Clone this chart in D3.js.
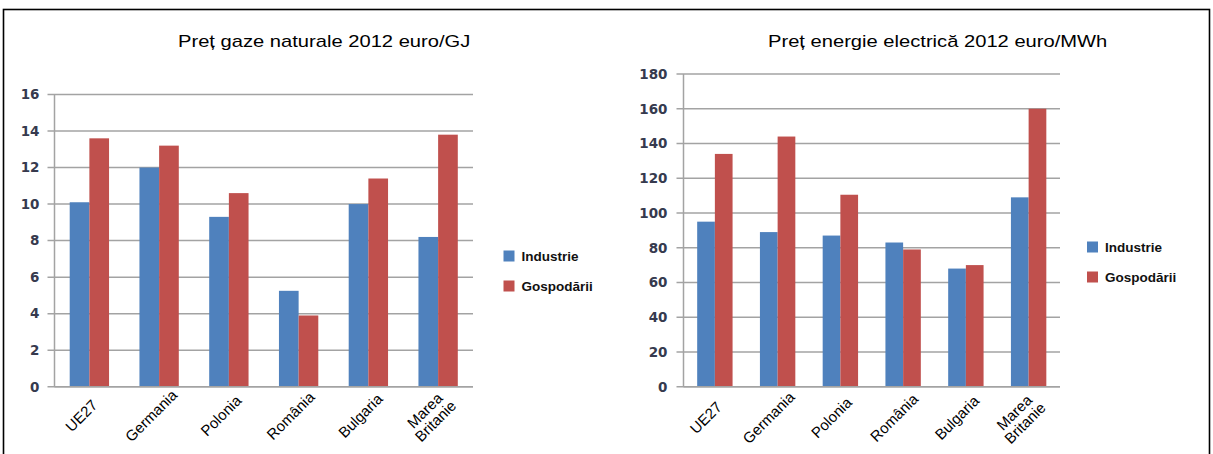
<!DOCTYPE html>
<html>
<head>
<meta charset="utf-8">
<script src="https://cdn.jsdelivr.net/npm/d3@7"></script>
<style>
  html, body { margin: 0; padding: 0; background: #fff; }
  svg { display: block; }
</style>
</head>
<body>
<svg id="chart" width="1213" height="454"></svg>
<script>
// Country groups shown on both panels
const categories = ["UE27", "Germania", "Polonia", "România", "Bulgaria", "Marea Britanie"];
const seriesNames = ["Industrie", "Gospodării"];

// Natural gas price 2012, euro/GJ
const gasIndustrie = [10.1, 12.0, 9.3, 5.25, 10.0, 8.2];
const gasGospodarii = [13.6, 13.2, 10.6, 3.9, 11.4, 13.8];
const gasTicks = [0, 2, 4, 6, 8, 10, 12, 14, 16];

// Electricity price 2012, euro/MWh
const elIndustrie = [95, 89, 87, 83, 68, 109];
const elGospodarii = [134, 144, 110.5, 79, 70, 160];
const elTicks = [0, 20, 40, 60, 80, 100, 120, 140, 160, 180];

const colors = { "Industrie": "#4f81bd", "Gospodării": "#c0504d" };

// titles are set a little wide
const titleStretch = 1.26;

const svg = d3.select("#chart");

// outer frame
svg.append("rect")
  .attr("x", 3.5).attr("y", 9.5)
  .attr("width", 1206).attr("height", 460)
  .attr("fill", "none").attr("stroke", "#000").attr("stroke-width", 1.6);

function drawPanel(opt) {
  const g = svg.append("g");
  const rows = categories.map((c, i) => ({
    cat: c,
    vals: [
      { s: "Industrie", v: opt.a[i] },
      { s: "Gospodării", v: opt.b[i] }
    ]
  }));

  const y = d3.scaleLinear().domain([0, d3.max(opt.ticks)]).range([opt.y0, opt.y1]);
  const x = d3.scaleBand().domain(categories).range([opt.x0, opt.x1]).paddingInner(0).paddingOuter(0);
  const xs = d3.scaleBand().domain(seriesNames).range([0, x.bandwidth()]).paddingInner(0).paddingOuter(0.773);

  // horizontal gridlines with short outer ticks
  g.append("g").selectAll("line").data(opt.ticks).join("line")
    .attr("x1", opt.x0 - 7).attr("x2", opt.x1)
    .attr("y1", d => y(d)).attr("y2", d => y(d))
    .attr("stroke", "#a3a3a3").attr("stroke-width", 1.5);

  // vertical axis line
  g.append("line")
    .attr("x1", opt.x0).attr("x2", opt.x0)
    .attr("y1", y(d3.max(opt.ticks))).attr("y2", y(0))
    .attr("stroke", "#a3a3a3").attr("stroke-width", 1.5);

  // tick labels
  const yAxis = d3.axisLeft(y).tickValues(opt.ticks).tickSize(0).tickPadding(opt.pad);
  const ya = g.append("g").attr("transform", `translate(${opt.x0},0)`).call(yAxis);
  ya.select(".domain").remove();
  ya.selectAll("text")
    .attr("font-family", "'DejaVu Sans', sans-serif")
    .attr("font-weight", "bold")
    .attr("font-size", "13.5px")
    .attr("fill", "#363a4e");

  // bars
  const grp = g.append("g").selectAll("g").data(rows).join("g")
    .attr("transform", d => `translate(${x(d.cat)},0)`);
  grp.selectAll("rect").data(d => d.vals).join("rect")
    .attr("x", d => xs(d.s))
    .attr("width", xs.bandwidth())
    .attr("y", d => y(d.v))
    .attr("height", d => y(0) - y(d.v))
    .attr("fill", d => colors[d.s]);

  // horizontal axis line
  g.append("line")
    .attr("x1", opt.x0).attr("x2", opt.x1)
    .attr("y1", y(0)).attr("y2", y(0))
    .attr("stroke", "#a3a3a3").attr("stroke-width", 1.5);

  // rotated category labels, centred on their anchor
  const labels = g.append("g").selectAll("text").data(categories).join("text")
    .attr("transform", d => `translate(${x(d) + x.bandwidth() / 2 + opt.lx},${y(0) + opt.ly}) rotate(-45)`)
    .attr("font-family", "'Liberation Sans', Arial, sans-serif")
    .attr("font-size", "15px")
    .attr("fill", "#000")
    .attr("text-anchor", "middle");
  labels.each(function (d) {
    const parts = d.split(" ");
    const t = d3.select(this);
    const lh = 15;
    parts.forEach((p, i) => {
      t.append("tspan")
        .attr("x", 0)
        .attr("y", (i - (parts.length - 1) / 2) * lh)
        .attr("dy", "0.35em")
        .text(p);
    });
  });

  // title
  g.append("text")
    .attr("transform", `translate(${opt.tx},47) scale(${titleStretch},1)`)
    .attr("font-family", "'Liberation Sans', Arial, sans-serif")
    .attr("font-size", "16px")
    .attr("fill", "#000")
    .text(opt.title);

  // legend
  const lg = g.append("g").selectAll("g").data(seriesNames).join("g")
    .attr("transform", (d, i) => `translate(${opt.lgx},${opt.lgy + i * 30})`);
  lg.append("rect").attr("x", 0).attr("y", -5.5).attr("width", 11).attr("height", 11)
    .attr("fill", d => colors[d]);
  lg.append("text").attr("x", 18).attr("y", 0).attr("dy", "0.36em")
    .attr("font-family", "'Liberation Sans', Arial, sans-serif")
    .attr("font-weight", "bold")
    .attr("font-size", "13.5px")
    .attr("fill", "#111")
    .text(d => d);
}

drawPanel({
  title: "Preț gaze naturale 2012 euro/GJ",
  a: gasIndustrie, b: gasGospodarii, ticks: gasTicks,
  x0: 54.5, x1: 473, y0: 386.7, y1: 94.5, pad: 15,
  lx: -8, ly: 29, tx: 178, lgx: 503.5, lgy: 256
});

drawPanel({
  title: "Preț energie electrică 2012 euro/MWh",
  a: elIndustrie, b: elGospodarii, ticks: elTicks,
  x0: 683.5, x1: 1060, y0: 386.7, y1: 74, pad: 16,
  lx: -9, ly: 31, tx: 768, lgx: 1087, lgy: 247
});
</script>
</body>
</html>
